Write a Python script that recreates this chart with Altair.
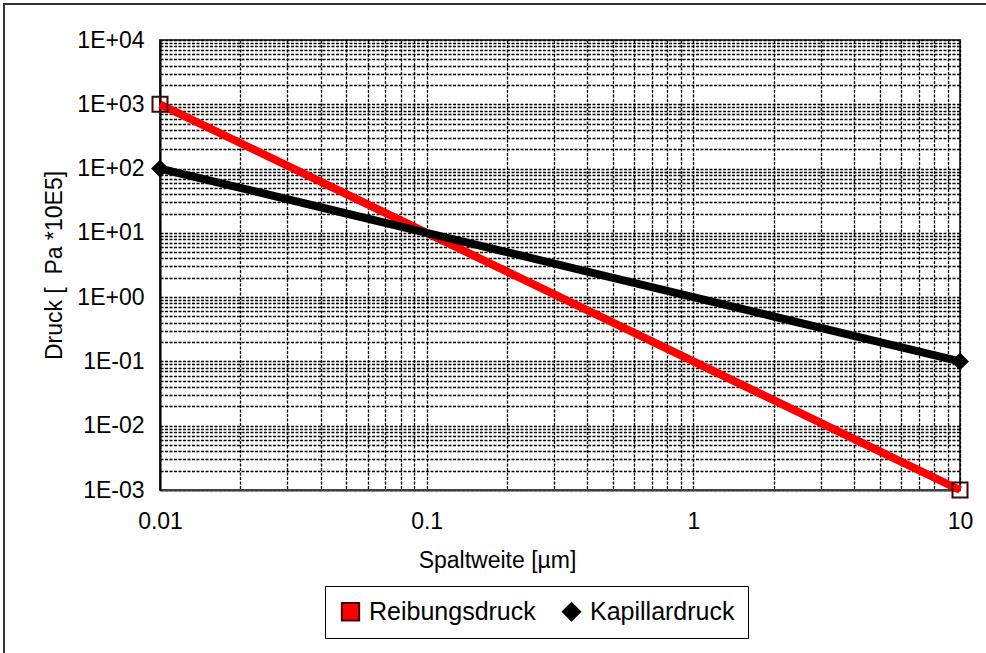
import altair as alt
import pandas as pd

# Gap width (µm) and the two pressure curves (Pa * 10E5), log-log
spaltweite = [0.01, 0.02, 0.05, 0.1, 0.2, 0.5, 1, 2, 5, 10]
reibungsdruck = [1000, 250, 40, 10, 2.5, 0.4, 0.1, 0.025, 0.004, 0.001]
kapillardruck = [100, 50, 20, 10, 5, 2, 1, 0.5, 0.2, 0.1]
series_names = ["Reibungsdruck", "Kapillardruck"]

# Decades for axis labels and the 1..9 sub-steps for the dotted grid
x_decades = [0.01, 0.1, 1, 10]
y_decades = [0.001, 0.01, 0.1, 1, 10, 100, 1000, 10000]
sub_steps = [1, 2, 3, 4, 5, 6, 7, 8, 9]

x_grid = [round(d * s, 6) for d in x_decades[:-1] for s in sub_steps] + [x_decades[-1]]
y_grid = [round(d * s, 6) for d in y_decades[:-1] for s in sub_steps] + [y_decades[-1]]

rows = []
for name, values in zip(series_names, [reibungsdruck, kapillardruck]):
    for i, (x, v) in enumerate(zip(spaltweite, values)):
        rows.append({"Reihe": name, "Spaltweite": x, "Druck": v,
                     "Ende": i == 0 or i == len(spaltweite) - 1})
df = pd.DataFrame(rows)

FONT = "Liberation Sans"
is_decade = "abs(log(datum.value)/LN10 - round(log(datum.value)/LN10)) < 1e-6"
exp_expr = "round(log(datum.value)/LN10)"

x_enc = alt.X(
    "Spaltweite:Q",
    scale=alt.Scale(type="log", domain=[0.01, 10], nice=False),
    axis=alt.Axis(
        values=x_grid,
        labelExpr=f"{is_decade} ? format(datum.value, '~g') : ''",
        ticks=False,
        labelPadding=20,
        labelFlush=False,
        labelOverlap=False,
        domainColor="#444444",
        title="Spaltweite [µm]",
        titleX=337,
        titleY=77,
        titleAlign="center",
        titleBaseline="alphabetic",
    ),
)
y_enc = alt.Y(
    "Druck:Q",
    scale=alt.Scale(type="log", domain=[0.001, 10000], nice=False),
    axis=alt.Axis(
        values=y_grid,
        labelExpr=(f"{is_decade} ? '1E' + ({exp_expr} < 0 ? '-' : '+') + '0' + "
                   f"abs({exp_expr}) : ''"),
        ticks=False,
        labelPadding=16,
        labelFlush=False,
        labelOverlap=False,
        domainColor="#000000",
        title="Druck [\u00a0 Pa *10E5]",
        titleX=-106,
        titleY=225,
        titleBaseline="middle",
        titleAlign="center",
    ),
)

base = alt.Chart(df).encode(x=x_enc, y=y_enc)

line_red = base.transform_filter(alt.datum.Reihe == "Reibungsdruck").mark_line(
    color="#ff0000", strokeWidth=8, strokeCap="butt")
line_black = base.transform_filter(alt.datum.Reihe == "Kapillardruck").mark_line(
    color="#000000", strokeWidth=8, strokeCap="butt")

end_red = base.transform_filter(
    (alt.datum.Reihe == "Reibungsdruck") & alt.datum.Ende
).mark_point(shape="square", size=225, filled=False, stroke="#3a0808",
             strokeWidth=2, opacity=1)
end_black = base.transform_filter(
    (alt.datum.Reihe == "Kapillardruck") & alt.datum.Ende
).mark_point(shape="diamond", size=320, filled=True, color="#000000", opacity=1)

# Legend entries (zero-size points so only the legend symbols show)
legend_layer = base.mark_point(size=0, filled=True, strokeWidth=2, opacity=1).encode(
    fill=alt.Fill("Reihe:N", scale=alt.Scale(domain=series_names, range=["#ff0000", "#000000"]),
                  legend=alt.Legend(title=None)),
    stroke=alt.Stroke("Reihe:N", scale=alt.Scale(domain=series_names, range=["#400000", "#000000"]),
                      legend=alt.Legend(title=None)),
    shape=alt.Shape("Reihe:N", scale=alt.Scale(domain=series_names, range=["square", "diamond"]),
                    legend=alt.Legend(title=None)),
)

# Outer frame of the figure
frame = alt.Chart(pd.DataFrame({"f": [0]})).mark_rect(
    fill=None, stroke="#333333", strokeWidth=2
).encode(x=alt.value(-156), x2=alt.value(900), y=alt.value(-36), y2=alt.value(700))

chart = alt.layer(
    frame, line_red, line_black, end_red, end_black, legend_layer
).properties(
    width=800,
    height=450,
    autosize=alt.AutoSizeParams(type="none"),
    padding={"left": 160, "top": 40, "right": 26, "bottom": 163},
    background="white",
).configure_view(
    stroke="#444444", strokeWidth=2
).configure_axis(
    labelFont=FONT, labelFontSize=23, labelColor="#000000",
    titleFont=FONT, titleFontSize=23, titleColor="#000000", titleFontWeight="normal",
    grid=True, gridColor="#000000", gridDash=[3, 1.5], gridWidth=1.3, gridOpacity=1,
    domainWidth=2,
).configure_legend(
    orient="none", legendX=165, legendY=546, direction="horizontal",
    strokeColor="#000000", padding=13, fillColor="white",
    labelFont=FONT, labelFontSize=25, labelColor="#000000", labelLimit=400,
    symbolSize=300, symbolStrokeWidth=2, symbolOpacity=1,
    labelOffset=6, columnPadding=22,
)

chart.save("out.html", embed_options={"renderer": "svg", "actions": False})
